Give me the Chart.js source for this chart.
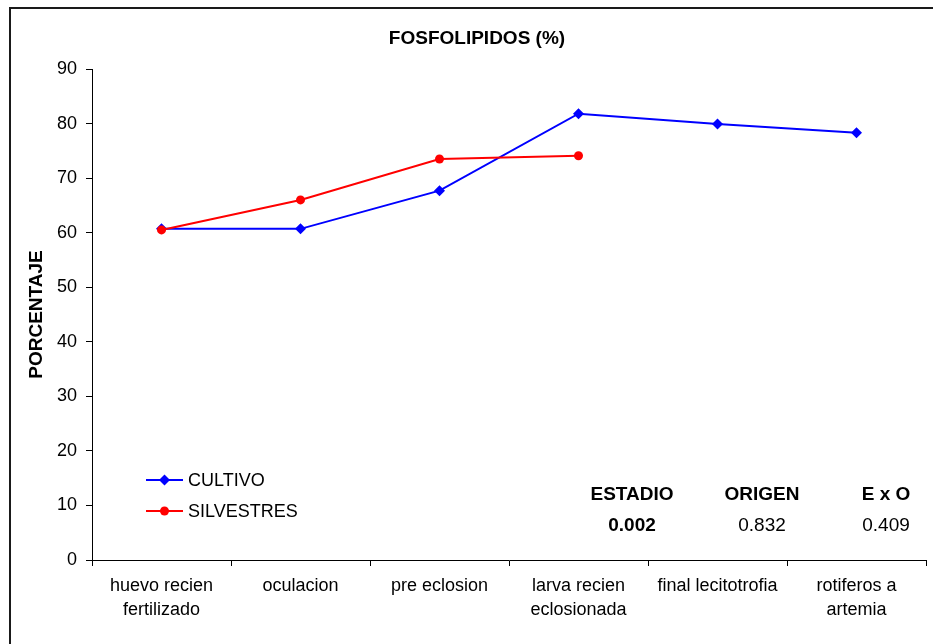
<!DOCTYPE html>
<html>
<head>
<meta charset="utf-8">
<script src="https://cdn.jsdelivr.net/npm/chart.js@4.4.1/dist/chart.umd.min.js"></script>
<style>
  html, body { margin: 0; padding: 0; background: #ffffff; }
  canvas { display: block; }
</style>
</head>
<body>
<canvas id="chart" width="933" height="644"></canvas>
<script>
// Developmental stages (x-axis categories, two-line labels)
const stages = [
  ['huevo recien', 'fertilizado'],
  ['oculacion'],
  ['pre eclosion'],
  ['larva recien', 'eclosionada'],
  ['final lecitotrofia'],
  ['rotiferos a', 'artemia']
];

// Phospholipid percentage per stage
const cultivo = [60.7, 60.7, 67.7, 81.8, 79.9, 78.3];
const silvestres = [60.5, 66.0, 73.5, 74.1, null, null];

const seriesNames = ['CULTIVO', 'SILVESTRES'];

// Y-axis range and step
const yMin = 0;
const yMax = 90;
const yStep = 10;

// ANOVA p-values shown in the lower right
const effectNames = ['ESTADIO', 'ORIGEN', 'E x O'];
const effectP = ['0.002', '0.832', '0.409'];
const effectSignificant = [true, false, false];

const FONT = '"Liberation Sans", Arial, Helvetica, sans-serif';

// Frame around the whole chart
const framePlugin = {
  id: 'frame',
  beforeDraw(chart) {
    const ctx = chart.ctx;
    ctx.save();
    ctx.fillStyle = '#ffffff';
    ctx.fillRect(0, 0, chart.width, chart.height);
    ctx.strokeStyle = '#1a1a1a';
    ctx.lineWidth = 2;
    ctx.strokeRect(10, 8, chart.width + 10, chart.height + 10);
    ctx.restore();
  }
};

function drawMarker(ctx, style, x, y, r, color) {
  ctx.save();
  ctx.fillStyle = color;
  ctx.beginPath();
  if (style === 'rectRot') {
    ctx.moveTo(x, y - r);
    ctx.lineTo(x + r, y);
    ctx.lineTo(x, y + r);
    ctx.lineTo(x - r, y);
    ctx.closePath();
  } else {
    ctx.arc(x, y, r, 0, Math.PI * 2);
  }
  ctx.fill();
  ctx.restore();
}

// Legend inside the plot area, lower left
const innerLegendPlugin = {
  id: 'innerLegend',
  afterDraw(chart) {
    const ctx = chart.ctx;
    const x0 = 146, x1 = 183, tx = 188;
    const rows = [480, 511];
    ctx.save();
    chart.data.datasets.forEach((ds, i) => {
      const y = rows[i];
      ctx.strokeStyle = ds.borderColor;
      ctx.lineWidth = ds.borderWidth;
      ctx.beginPath();
      ctx.moveTo(x0, y);
      ctx.lineTo(x1, y);
      ctx.stroke();
      drawMarker(ctx, ds.pointStyle, (x0 + x1) / 2, y, ds.pointRadius, ds.pointBackgroundColor);
      ctx.fillStyle = '#000000';
      ctx.font = '18px ' + FONT;
      ctx.textAlign = 'left';
      ctx.textBaseline = 'middle';
      ctx.fillText(ds.label, tx, y + 1);
    });
    ctx.restore();
  }
};

// Significance table, lower right
const statsPlugin = {
  id: 'stats',
  afterDraw(chart) {
    const ctx = chart.ctx;
    const centers = [632, 762, 886];
    ctx.save();
    ctx.fillStyle = '#000000';
    ctx.textAlign = 'center';
    ctx.textBaseline = 'middle';
    effectNames.forEach((name, i) => {
      ctx.font = 'bold 19px ' + FONT;
      ctx.fillText(name, centers[i], 495);
      ctx.font = (effectSignificant[i] ? 'bold ' : '') + '19px ' + FONT;
      ctx.fillText(effectP[i], centers[i], 526);
    });
    ctx.restore();
  }
};

new Chart(document.getElementById('chart'), {
  type: 'line',
  data: {
    labels: stages,
    datasets: [
      {
        label: seriesNames[0],
        data: cultivo,
        borderColor: '#0000ff',
        backgroundColor: '#0000ff',
        pointBackgroundColor: '#0000ff',
        pointBorderColor: '#0000ff',
        pointStyle: 'rectRot',
        pointRadius: 5.5,
        pointBorderWidth: 0,
        borderWidth: 2,
        tension: 0,
        order: 1
      },
      {
        label: seriesNames[1],
        data: silvestres,
        borderColor: '#ff0000',
        backgroundColor: '#ff0000',
        pointBackgroundColor: '#ff0000',
        pointBorderColor: '#ff0000',
        pointStyle: 'circle',
        pointRadius: 4.5,
        pointBorderWidth: 0,
        borderWidth: 2,
        tension: 0,
        spanGaps: false,
        order: 0
      }
    ]
  },
  options: {
    responsive: false,
    devicePixelRatio: 1,
    animation: false,
    events: [],
    layout: { padding: { top: 8, left: 28, right: 7, bottom: 0 } },
    plugins: {
      legend: { display: false },
      tooltip: { enabled: false },
      title: {
        display: true,
        text: 'FOSFOLIPIDOS (%)',
        color: '#000000',
        font: { family: FONT, size: 19, weight: 'bold', lineHeight: 1.2 },
        padding: { top: 19.6, bottom: 18.6 }
      }
    },
    scales: {
      x: {
        type: 'category',
        offset: true,
        afterFit(scale) { scale.height = 84; },
        grid: {
          offset: true,
          drawOnChartArea: false,
          drawTicks: true,
          tickLength: 6,
          color: '#000000',
          lineWidth: 1
        },
        border: { display: true, color: '#000000', width: 1 },
        ticks: {
          color: '#000000',
          padding: 8,
          maxRotation: 0,
          autoSkip: false,
          font: { family: FONT, size: 18, lineHeight: 1.33 }
        }
      },
      y: {
        min: yMin,
        max: yMax,
        afterFit(scale) { scale.width = 64; },
        grid: {
          drawOnChartArea: false,
          drawTicks: true,
          tickLength: 6,
          color: '#000000',
          lineWidth: 1
        },
        border: { display: true, color: '#000000', width: 1 },
        ticks: {
          stepSize: yStep,
          color: '#000000',
          padding: 9,
          font: { family: FONT, size: 18 }
        },
        title: {
          display: true,
          text: 'PORCENTAJE',
          color: '#000000',
          font: { family: FONT, size: 19, weight: 'bold', lineHeight: 0.8 },
          padding: { top: 1.5, bottom: 0 }
        }
      }
    }
  },
  plugins: [framePlugin, innerLegendPlugin, statsPlugin]
});
</script>
</body>
</html>
